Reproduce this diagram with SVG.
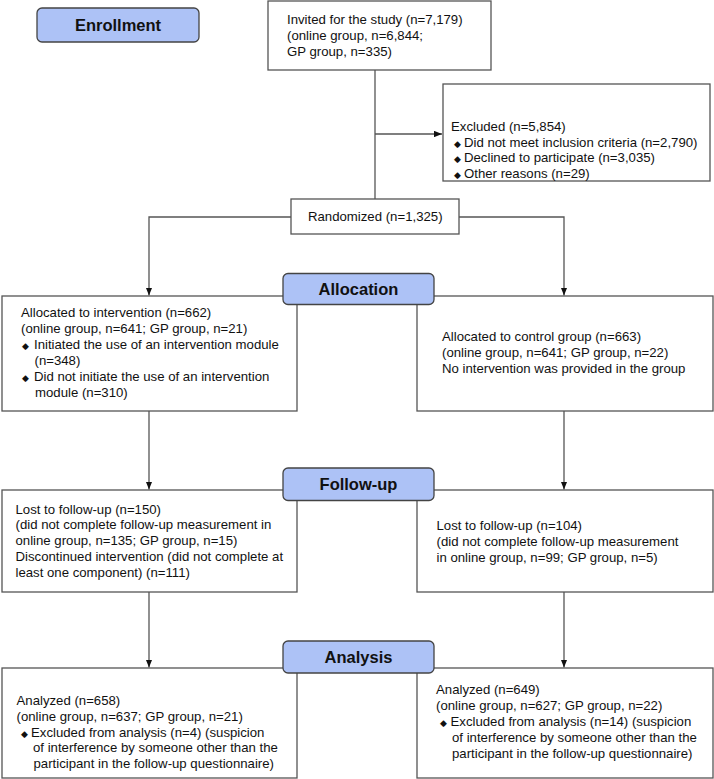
<svg xmlns="http://www.w3.org/2000/svg" width="714" height="779" viewBox="0 0 714 779">
<defs>
<style>
.box{fill:#fff;stroke:#555;stroke-width:1.3}
.hdr{fill:#adc2f6;stroke:#444;stroke-width:1.3}
.t{font-family:"Liberation Sans",Arial,sans-serif;font-size:13.2px;fill:#111}
.h{font-family:"Liberation Sans",Arial,sans-serif;font-size:16.5px;font-weight:bold;fill:#111;text-anchor:middle}
.c{fill:none;stroke:#555;stroke-width:1.3}
</style>
<marker id="arr" viewBox="0 0 10 8" refX="10" refY="4" markerWidth="8" markerHeight="6.5" markerUnits="userSpaceOnUse" orient="auto">
<path d="M0,0 L10,4 L0,8 Z" fill="#111"/>
</marker>
</defs>
<rect width="714" height="779" fill="#fff"/>
<g id="connectors">
<path class="c" d="M375,70 V199"/>
<path class="c" d="M375,134 H442" marker-end="url(#arr)"/>
<path class="c" d="M291,217 H149 V295.5" marker-end="url(#arr)"/>
<path class="c" d="M459,217 H564 V295.5" marker-end="url(#arr)"/>
<path class="c" d="M149,411 V489.5" marker-end="url(#arr)"/>
<path class="c" d="M564,411 V489.5" marker-end="url(#arr)"/>
<path class="c" d="M149,592 V667.5" marker-end="url(#arr)"/>
<path class="c" d="M564,592 V667.5" marker-end="url(#arr)"/>
</g>
<g id="enrollment">
<rect class="hdr" x="37" y="8" width="162" height="34" rx="5"/>
<text class="h" x="118" y="31">Enrollment</text>
</g>
<g id="invited">
<rect class="box" x="268" y="1" width="223" height="69"/>
<text class="t" x="287" y="24">Invited for the study (n=7,179)</text>
<text class="t" x="287" y="40">(online group, n=6,844;</text>
<text class="t" x="287" y="56">GP group, n=335)</text>
</g>
<g id="excluded">
<rect class="box" x="443" y="84" width="267" height="97"/>
<text class="t" x="451" y="131">Excluded (n=5,854)</text>
<text class="t" x="454" y="146.5"><tspan font-size="9">◆</tspan><tspan x="464">Did not meet inclusion criteria (n=2,790)</tspan></text>
<text class="t" x="454" y="162"><tspan font-size="9">◆</tspan><tspan x="464">Declined to participate (n=3,035)</tspan></text>
<text class="t" x="454" y="177.5"><tspan font-size="9">◆</tspan><tspan x="464">Other reasons (n=29)</tspan></text>
</g>
<g id="randomized">
<rect class="box" x="291" y="199" width="168" height="35"/>
<text class="t" x="308" y="221">Randomized (n=1,325)</text>
</g>
<g id="alloc-intervention">
<rect class="box" x="2" y="296" width="295" height="115"/>
<text class="t" x="21" y="317">Allocated to intervention (n=662)</text>
<text class="t" x="21" y="333">(online group, n=641; GP group, n=21)</text>
<text class="t" x="22" y="349"><tspan font-size="9">◆</tspan><tspan x="34">Initiated the use of an intervention module</tspan></text>
<text class="t" x="34.5" y="365">(n=348)</text>
<text class="t" x="22" y="381"><tspan font-size="9">◆</tspan><tspan x="34">Did not initiate the use of an intervention</tspan></text>
<text class="t" x="35" y="396.5">module (n=310)</text>
</g>
<g id="alloc-control">
<rect class="box" x="417" y="296" width="296" height="115"/>
<text class="t" x="442" y="340.5">Allocated to control group (n=663)</text>
<text class="t" x="442" y="356.5">(online group, n=641; GP group, n=22)</text>
<text class="t" x="442" y="372.5">No intervention was provided in the group</text>
</g>
<g id="allocation">
<rect class="hdr" x="283" y="273.5" width="151" height="31" rx="5"/>
<text class="h" x="358.5" y="295">Allocation</text>
</g>
<g id="followup-intervention">
<rect class="box" x="2" y="490" width="295" height="102"/>
<text class="t" x="15.5" y="513.5">Lost to follow-up (n=150)</text>
<text class="t" x="15.5" y="529">(did not complete follow-up measurement in</text>
<text class="t" x="15.5" y="545">online group, n=135; GP group, n=15)</text>
<text class="t" x="15.5" y="561">Discontinued intervention (did not complete at</text>
<text class="t" x="15.5" y="577">least one component) (n=111)</text>
</g>
<g id="followup-control">
<rect class="box" x="417" y="490" width="296" height="102"/>
<text class="t" x="436.5" y="529.5">Lost to follow-up (n=104)</text>
<text class="t" x="436.5" y="545.5">(did not complete follow-up measurement</text>
<text class="t" x="436.5" y="561.5">in online group, n=99; GP group, n=5)</text>
</g>
<g id="followup">
<rect class="hdr" x="283" y="468" width="151" height="32.5" rx="5"/>
<text class="h" x="358.5" y="490">Follow-up</text>
</g>
<g id="analysis-intervention">
<rect class="box" x="2" y="668" width="295" height="110"/>
<text class="t" x="16.5" y="704.5">Analyzed (n=658)</text>
<text class="t" x="16.5" y="720.5">(online group, n=637; GP group, n=21)</text>
<text class="t" x="20.5" y="736.5"><tspan font-size="9">◆</tspan><tspan x="31">Excluded from analysis (n=4) (suspicion</tspan></text>
<text class="t" x="33" y="752">of interference by someone other than the</text>
<text class="t" x="33.5" y="768">participant in the follow-up questionnaire)</text>
</g>
<g id="analysis-control">
<rect class="box" x="417" y="668" width="296" height="110"/>
<text class="t" x="436" y="694">Analyzed (n=649)</text>
<text class="t" x="436" y="710">(online group, n=627; GP group, n=22)</text>
<text class="t" x="440" y="726"><tspan font-size="9">◆</tspan><tspan x="450.5">Excluded from analysis (n=14) (suspicion</tspan></text>
<text class="t" x="452" y="742">of interference by someone other than the</text>
<text class="t" x="452" y="758">participant in the follow-up questionnaire)</text>
</g>
<g id="analysis">
<rect class="hdr" x="283" y="641" width="151" height="32" rx="5"/>
<text class="h" x="358.5" y="663">Analysis</text>
</g>
</svg>
